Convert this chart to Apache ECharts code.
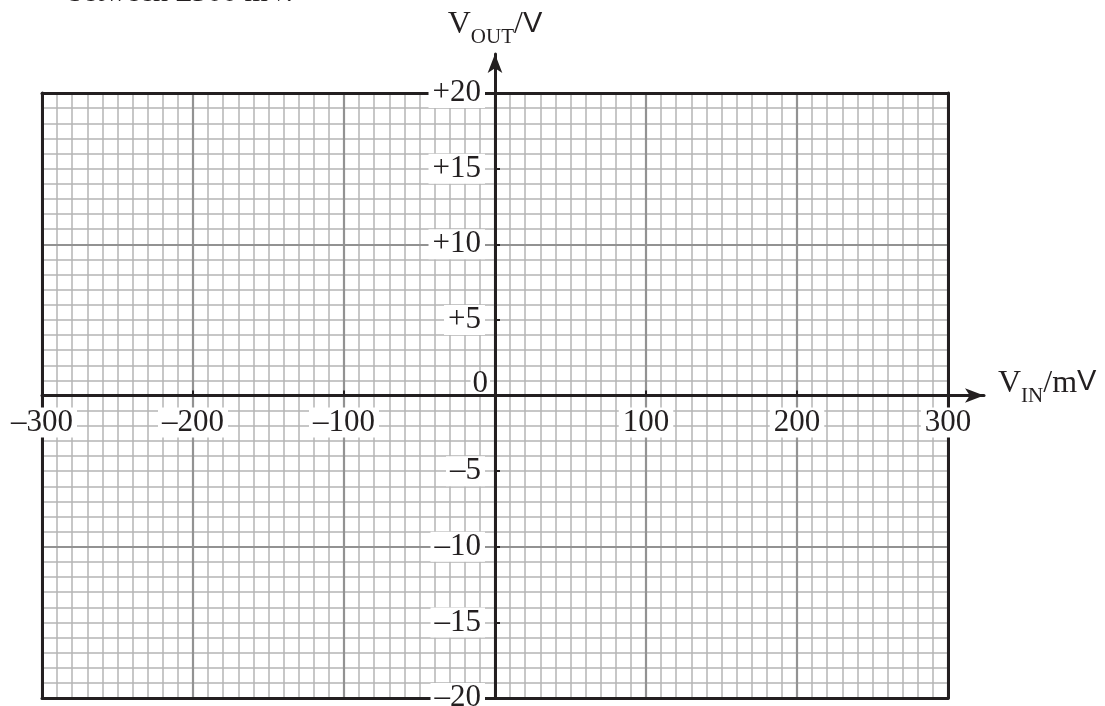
<!DOCTYPE html>
<html>
<head>
<meta charset="utf-8">
<title>V_OUT against V_IN</title>
<script src="https://cdn.jsdelivr.net/npm/echarts@6/dist/echarts.min.js"></script>
<style>
html, body { margin: 0; padding: 0; background: #fff; }
#chart { width: 1105px; height: 706px; }
</style>
</head>
<body>
<div id="chart"></div>
<script>
// axis ranges and grid steps
const xRange = [-300, 300];   // V_IN / mV
const yRange = [-20, 20];     // V_OUT / V
const xMinor = 10, xMajor = 100;
const yMinor = 1, yMajor = 10;

// labelled ticks
const xTickValues = [-300, -200, -100, 100, 200, 300];
const yTickValues = [-20, -15, -10, -5, 5, 10, 15, 20];
const yZeroValue = [0];

const leadText = "between \u00b1300 mV.";

// layout in px
const box = { left: 42, top: 93, right: 948, bottom: 698 };
const arrowX = 984, arrowY = 54;   // arrow tips

const ink = "#231f20";
const serif = "Liberation Serif";

// axis ends stretched to the arrow heads, same scale as the paper grid
const pxPerX = (box.right - box.left) / (xRange[1] - xRange[0]);
const pxPerY = (box.bottom - box.top) / (yRange[1] - yRange[0]);
const xEnd = xRange[1] + (arrowX - box.right) / pxPerX;
const yEnd = yRange[1] + (box.top - arrowY) / pxPerY;
// pixel position of the origin
const zeroX = box.left - xRange[0] * pxPerX;
const zeroY = box.top + yRange[1] * pxPerY;

function fmt(v, plus) {
  if (v < 0) return "\u2013" + Math.abs(v);
  return (plus && v > 0 ? "+" : "") + v;
}

function gridAxis(range, step, color, width, z) {
  return {
    type: "value", gridIndex: 0, min: range[0], max: range[1], interval: step, z: z,
    axisLine: { show: false, onZero: false },
    axisTick: { show: false },
    axisLabel: { show: false },
    splitLine: { show: true, lineStyle: { color: color, width: width } }
  };
}

function frameAxis(range, pos) {
  return {
    type: "value", gridIndex: 0, min: range[0], max: range[1], position: pos, z: 3,
    axisLine: { show: true, onZero: false, lineStyle: { color: ink, width: 3 } },
    axisTick: { show: false },
    axisLabel: { show: false },
    splitLine: { show: false }
  };
}

function dummyAxis(grid) {
  return {
    type: "value", gridIndex: grid, min: 0, max: 1, show: false,
    axisLine: { show: false, onZero: false }, splitLine: { show: false }
  };
}

const nameRich = {
  v: { fontFamily: serif, fontSize: 32, lineHeight: 32, verticalAlign: "top", color: ink },
  s: { fontFamily: serif, fontSize: 21, lineHeight: 21, padding: [18, 0, 0, 0], verticalAlign: "top", color: ink },
  w: { fontFamily: "Liberation Sans", fontSize: 29, lineHeight: 32, verticalAlign: "top", color: ink }
};

const labelStyle = {
  fontFamily: serif, fontSize: 31, color: ink, lineHeight: 26,
  padding: [2, 4], backgroundColor: "#fff"
};

const chart = echarts.init(document.getElementById("chart"));

chart.setOption({
  backgroundColor: "#fff",
  animation: false,
  grid: [
    // paper
    { left: box.left, top: box.top, width: box.right - box.left, height: box.bottom - box.top,
      containLabel: false, outerBoundsMode: "none" },
    // horizontal axis: bottom edge on V_OUT = 0
    { left: box.left, top: arrowY, width: arrowX - box.left, height: zeroY - arrowY,
      containLabel: false, outerBoundsMode: "none" },
    // vertical axis: left edge on V_IN = 0
    { left: zeroX, top: arrowY, width: arrowX - zeroX, height: box.bottom - arrowY,
      containLabel: false, outerBoundsMode: "none" }
  ],
  xAxis: [
    gridAxis(xRange, xMinor, "#b4b4b4", 1.5, 1),
    gridAxis(xRange, xMajor, "#929292", 2.2, 2),
    frameAxis(xRange, "bottom"),
    frameAxis(xRange, "top"),
    {
      type: "value", gridIndex: 1, min: xRange[0], max: xEnd, position: "bottom", z: 5,
      axisLine: {
        show: true, onZero: false,
        symbol: ["none", "arrow"], symbolSize: [11, 19],
        lineStyle: { color: ink, width: 3 }
      },
      axisTick: { show: true, inside: true, length: 5, customValues: xTickValues, lineStyle: { color: ink, width: 2 } },
      axisLabel: Object.assign({ show: true, customValues: xTickValues, margin: 12, formatter: v => fmt(v, false) }, labelStyle),
      splitLine: { show: false },
      name: "{v|V}{s|IN}{v|/m}{w|V}",
      nameLocation: "end",
      nameGap: 14,
      nameTextStyle: { rich: nameRich, padding: [0, 0, 24, 0] }
    },
    dummyAxis(2)
  ],
  yAxis: [
    gridAxis(yRange, yMinor, "#b4b4b4", 1.5, 1),
    gridAxis(yRange, yMajor, "#929292", 2.2, 2),
    frameAxis(yRange, "left"),
    frameAxis(yRange, "right"),
    dummyAxis(1),
    {
      type: "value", gridIndex: 2, min: yRange[0], max: yEnd, position: "left", z: 5,
      axisLine: {
        show: true, onZero: false,
        symbol: ["none", "arrow"], symbolSize: [11, 19],
        lineStyle: { color: ink, width: 3 }
      },
      axisTick: { show: true, inside: true, length: 5, customValues: yTickValues, lineStyle: { color: ink, width: 2 } },
      axisLabel: Object.assign({ show: true, customValues: yTickValues, margin: 10, formatter: v => fmt(v, true) }, labelStyle),
      splitLine: { show: false },
      name: "{v|V}{s|OUT}{v|/}{w|V}",
      nameLocation: "end",
      nameGap: 13,
      nameTextStyle: { rich: nameRich }
    },
    {
      type: "value", gridIndex: 2, min: yRange[0], max: yEnd, position: "left", z: 4,
      axisLine: { show: false, onZero: false },
      axisTick: { show: false },
      axisLabel: Object.assign({}, labelStyle, {
        show: true, customValues: yZeroValue, margin: 5, verticalAlign: "bottom",
        padding: [0, 2], lineHeight: 24, formatter: v => String(v)
      }),
      splitLine: { show: false }
    }
  ],
  graphic: [
    {
      type: "text", x: 68, y: -22, silent: true,
      style: { text: leadText, font: "30px 'Liberation Serif'", fill: ink, align: "left" }
    }
  ],
  series: []
});
</script>
</body>
</html>
